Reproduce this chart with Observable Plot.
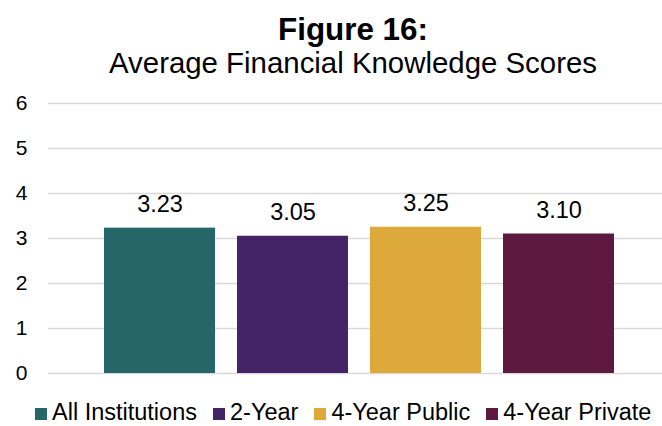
<!DOCTYPE html>
<html>
<head>
<meta charset="utf-8">
<script src="https://cdn.jsdelivr.net/npm/d3@7"></script>
<script src="https://cdn.jsdelivr.net/npm/@observablehq/plot@0.6"></script>
<style>
  body { margin: 0; background: #fff; font-family: "Liberation Sans", Arial, sans-serif; }
  #wrap { width: 662px; height: 426px; position: relative; overflow: hidden; }
  .title { position: absolute; left: 44px; width: 618px; text-align: center; color: #000; white-space: nowrap; line-height: normal; }
  #t1 { top: 12px; font-size: 31.4px; font-weight: bold; }
  #t2 { top: 46px; font-size: 29.4px; }
  #chart { position: absolute; top: 88px; left: 0; }
  #legend { position: absolute; top: 401px; left: 35px; display: flex; align-items: baseline; font-size: 23.5px; line-height: 1; color: #000; white-space: nowrap; }
  .item { display: flex; align-items: baseline; margin-right: 16px; }
  .sw { width: 12px; height: 12px; margin-right: 5px; display: inline-block; }
</style>
</head>
<body>
<div id="wrap">
  <div class="title" id="t1">Figure 16:</div>
  <div class="title" id="t2">Average Financial Knowledge Scores</div>
  <div id="chart"></div>
  <div id="legend"></div>
</div>
<script>
const categories = ["All Institutions", "2-Year", "4-Year Public", "4-Year Private"];
const scores = [3.23, 3.05, 3.25, 3.10];
const colors = ["#256669", "#442366", "#DCA93A", "#5E1941"];
const yTicks = [0, 1, 2, 3, 4, 5, 6];

const data = categories.map((c, i) => ({category: c, score: scores[i]}));

const chart = Plot.plot({
  width: 662,
  height: 300,
  marginLeft: 48,
  marginRight: 0,
  marginTop: 15,
  marginBottom: 15,
  style: {fontFamily: "Liberation Sans, Arial, sans-serif", fontSize: "21px", color: "#000", background: "#fff"},
  x: {domain: categories, range: [93, 625], paddingInner: 0.165, paddingOuter: 0.0825, axis: null},
  y: {domain: [0, 6], ticks: yTicks, tickSize: 0, tickPadding: 21, label: null, tickFormat: d => String(d)},
  color: {domain: categories, range: colors},
  marks: [
    Plot.ruleY(yTicks, {stroke: "#d9d9d9", strokeWidth: 1.5}),
    Plot.barY(data, {x: "category", y: "score", fill: "category"}),
    Plot.text(data, {x: "category", y: "score", text: d => d.score.toFixed(2), lineAnchor: "bottom", dy: -16, fontSize: 23.5, fill: "#000"}),
    Plot.axisY({ticks: yTicks, tickSize: 0, tickPadding: 21, fontSize: 21, tickFormat: d => String(d)})
  ]
});
document.getElementById("chart").appendChild(chart);

const legend = document.getElementById("legend");
categories.forEach((c, i) => {
  const item = document.createElement("div");
  item.className = "item";
  const sw = document.createElement("span");
  sw.className = "sw";
  sw.style.background = colors[i];
  item.appendChild(sw);
  item.appendChild(document.createTextNode(c));
  legend.appendChild(item);
});
</script>
</body>
</html>
